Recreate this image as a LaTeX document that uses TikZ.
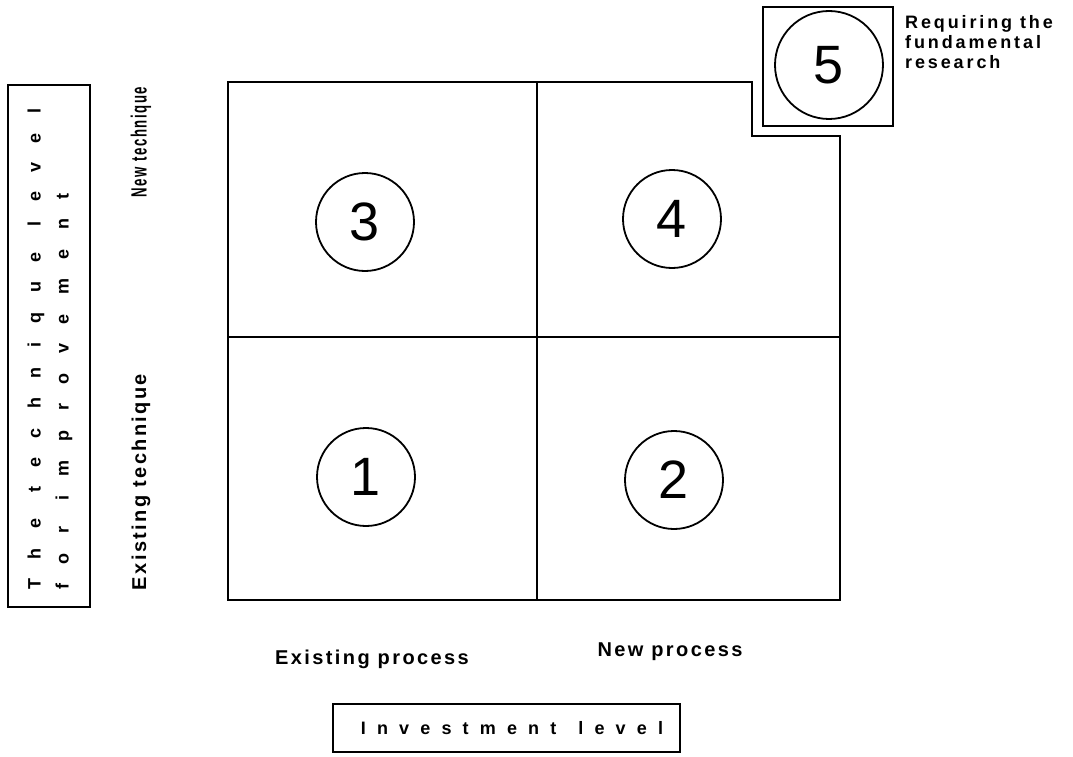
\documentclass[tikz,border=0pt]{standalone}
\usepackage{fontspec}
\setmainfont{Liberation Sans}

\begin{document}
\begin{tikzpicture}[x=1pt,y=-1pt,
  num/.style={circle,draw,line width=1.8pt,minimum size=98pt,inner sep=0pt,
    font=\fontsize{54}{54}\selectfont},
  lab/.style={inner sep=0pt,font=\bfseries\fontsize{20}{20}\selectfont\addfontfeature{LetterSpace=12}},
  wide/.style={inner sep=0pt,font=\bfseries\fontsize{18}{18}\selectfont\addfontfeature{LetterSpace=108}}]
\useasboundingbox (0,0) rectangle (1073,757);
% quadrants
\draw[line width=2.6pt] (228,82) -- (752,82) -- (752,136) -- (840,136)
  -- (840,600) -- (228,600) -- cycle;
\draw[line width=1.8pt] (537,82) -- (537,600);
\draw[line width=1.8pt] (228,337) -- (840,337);
\node[num] (q3) at (365,222) {3};
\node[num] (q4) at (672,219) {4};
\node[num] (q1) at (366,477) {1};
\node[num] (q2) at (674,480) {2};
% fifth case
\draw[line width=2.2pt] (763,7) rectangle (893,126);
\node[num,minimum size=108pt] (q5) at (829,65) {5};
\node[anchor=north west,align=left,inner sep=0pt,
  font=\bfseries\fontsize{18}{20}\selectfont\addfontfeature{LetterSpace=16}]
  (fund) at (905,15) {Requiring the\\fundamental\\research};
% vertical axis
\draw[line width=1.8pt] (8,85) rectangle (90,607);
\node[wide,rotate=90,anchor=west] (tech1) at (36,590) {The\hspace{26pt}technique\hspace{26pt}level};
\node[wide,rotate=90,anchor=west] (tech2) at (64,590) {for\hspace{26pt}improvement};
\node[lab,rotate=90] (newtech) at (141,142) {\scalebox{0.6}[1]{\fontsize{22}{22}\selectfont New technique}};
\node[lab,rotate=90] (oldtech) at (141,482) {Existing technique};
% horizontal axis
\node[lab] (oldproc) at (372,659) {Existing process};
\node[lab] (newproc) at (670,652) {New process};
\draw[line width=1.8pt] (333,704) rectangle (680,752);
\node[wide,font=\bfseries\fontsize{18}{18}\selectfont\addfontfeature{LetterSpace=62}]
  (invest) at (512,728) {Investment\hspace{22pt}level};
\end{tikzpicture}
\end{document}
